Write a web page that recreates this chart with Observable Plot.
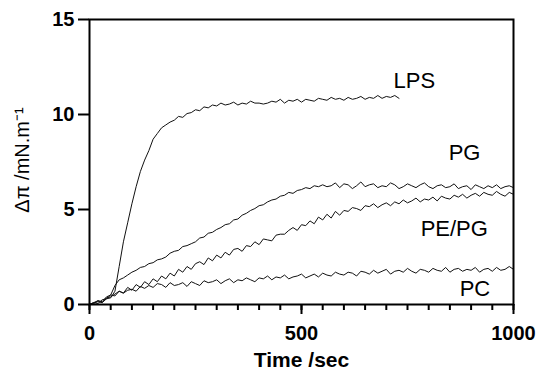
<!DOCTYPE html>
<html>
<head>
<meta charset="utf-8">
<script src="https://cdn.jsdelivr.net/npm/d3@7"></script>
<script src="https://cdn.jsdelivr.net/npm/@observablehq/plot@0.6"></script>
<style>
  html, body { margin: 0; padding: 0; background: #fff; }
  #chart svg { display: block; }
</style>
</head>
<body>
<div id="chart"></div>
<script>
// sampling step (sec)
const timeStep = 10;

// LPS: 0..730 s
const lpsValues = [0.0,0.08,0.15,0.1,0.3,0.35,0.7,2.0,3.3,4.3,5.3,6.2,7.0,7.6,8.1,8.7,9.0,9.3,9.45,9.6,
  9.7,9.9,9.85,10.05,10.1,10.25,10.2,10.4,10.35,10.5,10.45,10.6,10.5,10.55,10.65,10.5,10.6,10.55,10.7,10.6,
  10.6,10.55,10.6,10.7,10.65,10.8,10.6,10.75,10.7,10.8,10.65,10.8,10.75,10.7,10.85,10.8,10.75,10.9,10.8,10.85,
  10.75,10.9,10.8,10.85,10.95,10.8,10.9,10.85,11.0,10.85,10.95,10.9,11.0,10.85];

// PG: 0..1000 s
const pgValues = [0,0.1,0.2,0.15,0.4,0.5,1.0,1.3,1.4,1.55,1.7,1.8,1.95,2.0,2.15,2.2,2.35,2.4,2.5,2.7,
  2.8,2.85,3.05,3.1,3.2,3.3,3.5,3.55,3.75,3.8,3.95,4.05,4.2,4.25,4.45,4.5,4.7,4.8,4.95,5.05,
  5.2,5.25,5.4,5.5,5.55,5.7,5.75,5.9,5.85,6.0,6.05,6.15,6.1,6.25,6.2,
  6.3,6.2,6.25,6.4,6.15,6.35,6.3,6.1,6.25,6.45,
  6.2,6.3,6.35,6.15,6.25,6.2,6.4,6.3,6.1,6.2,
  6.35,6.25,6.15,6.3,6.4,6.2,6.1,6.25,6.3,6.15,
  6.2,6.35,6.1,6.2,6.25,6.05,6.3,6.2,6.1,6.25,
  6.15,6.3,6.1,6.2,6.25,6.15];

// PE/PG: 0..1000 s
const pePgValues = [0,0.05,0.2,0.1,0.35,0.4,0.55,0.7,0.6,0.9,0.75,1.05,0.9,1.2,1.05,1.35,1.2,1.5,1.35,1.65,
  1.5,1.85,1.7,2.0,1.85,2.15,2.25,2.1,2.45,2.3,2.6,2.45,2.75,2.6,2.9,2.95,2.8,3.1,3.05,3.3,
  3.15,3.45,3.4,3.35,3.65,3.7,3.7,3.9,4.05,3.9,4.2,4.15,4.4,4.25,4.6,4.45,4.75,4.55,4.9,4.7,
  4.95,4.9,5.1,5.05,4.95,5.2,5.15,5.3,5.1,5.25,
  5.35,5.2,5.4,5.3,5.5,5.35,5.45,5.6,5.4,5.55,
  5.5,5.65,5.45,5.7,5.6,5.55,5.75,5.65,5.8,5.6,
  5.75,5.85,5.7,5.9,5.8,5.75,5.95,5.8,5.7,5.9,
  5.8];

// PC: 0..1000 s
const pcValues = [0,0.1,0.05,0.25,0.3,0.5,0.45,0.7,0.6,0.75,0.8,0.7,0.95,0.85,1.0,0.9,1.1,1.05,0.9,1.15,
  1.0,1.05,1.15,0.95,1.2,1.1,1.0,1.25,1.15,1.2,
  1.3,1.1,1.25,1.35,1.15,1.3,1.25,1.4,1.3,1.2,
  1.4,1.35,1.5,1.3,1.45,1.4,1.55,1.35,1.45,1.5,
  1.6,1.4,1.5,1.6,1.45,1.65,1.55,1.5,1.7,1.6,
  1.55,1.7,1.65,1.5,1.75,1.7,1.6,1.8,1.65,1.75,
  1.85,1.6,1.75,1.8,1.7,1.9,1.75,1.65,1.85,1.8,
  1.7,1.9,1.8,1.75,1.95,1.7,1.85,1.9,1.75,1.85,
  1.8,1.95,1.7,1.85,1.9,1.75,1.95,1.8,1.85,2.0,
  1.85];

// series labels (text and anchor position in data units)
const labelNames = ["LPS", "PG", "PE/PG", "PC"];
const labelTimes = [717, 847, 781, 873];
const labelValues = [11.42, 7.58, 3.63, 0.47];

// axis ticks
const xMajorTicks = [0, 500, 1000];
const xMinorTicks = [0,50,100,150,200,250,300,350,400,450,500,550,600,650,700,750,800,850,900,950,1000];
const yTicks = [0, 5, 10, 15];

const seriesNames = ["LPS", "PG", "PE/PG", "PC"];
const seriesValues = [lpsValues, pgValues, pePgValues, pcValues];
const rows = [];
seriesNames.forEach((name, s) => {
  seriesValues[s].forEach((v, i) => rows.push({series: name, t: i * timeStep, v}));
});
const labels = labelNames.map((n, i) => ({n, t: labelTimes[i], v: labelValues[i]}));

const font = "'Liberation Sans', Arial, Helvetica, sans-serif";

const chart = Plot.plot({
  width: 537,
  height: 376,
  marginLeft: 89,
  marginRight: 24,
  marginTop: 19,
  marginBottom: 72,
  style: {fontFamily: font, background: "#fff", color: "#000"},
  x: {domain: [0, 1000]},
  y: {domain: [0, 15]},
  marks: [
    Plot.line(rows, {x: "t", y: "v", z: "series", stroke: "#111", strokeWidth: 1}),
    Plot.frame({stroke: "#000", strokeWidth: 2}),
    Plot.axisX(xMinorTicks, {tickSize: 6, strokeWidth: 2, text: null, label: null}),
    Plot.axisX(xMajorTicks, {tickSize: 10, strokeWidth: 2, tickPadding: 11, tickFormat: d => String(d),
      fontSize: 20, label: "Time /sec", labelAnchor: "center", labelArrow: "none", labelOffset: 62}),
    Plot.axisY(yTicks, {tickSize: 11, strokeWidth: 2, tickPadding: 4, tickFormat: d => String(d),
      fontSize: 20, label: null}),
    Plot.text(["Δπ /mN.m⁻¹"], {frameAnchor: "left", textAnchor: "middle", dx: -67, dy: -2, rotate: -90, fontSize: 20, text: d => d}),
    Plot.text(labels, {x: "t", y: "v", text: "n", textAnchor: "start", lineAnchor: "bottom", fontSize: 22})
  ]
});

document.getElementById("chart").appendChild(chart);
// bold axis tick labels and x-axis title
const svg = d3.select(chart);
svg.selectAll("g[aria-label='x-axis tick label'], g[aria-label='y-axis tick label']")
  .attr("font-weight", "bold").attr("fill", "#000");
svg.selectAll("g[aria-label='x-axis label'] text, g[aria-label='x-axis label']")
  .attr("font-weight", "bold").attr("font-size", 21).attr("fill", "#000");
</script>
</body>
</html>
